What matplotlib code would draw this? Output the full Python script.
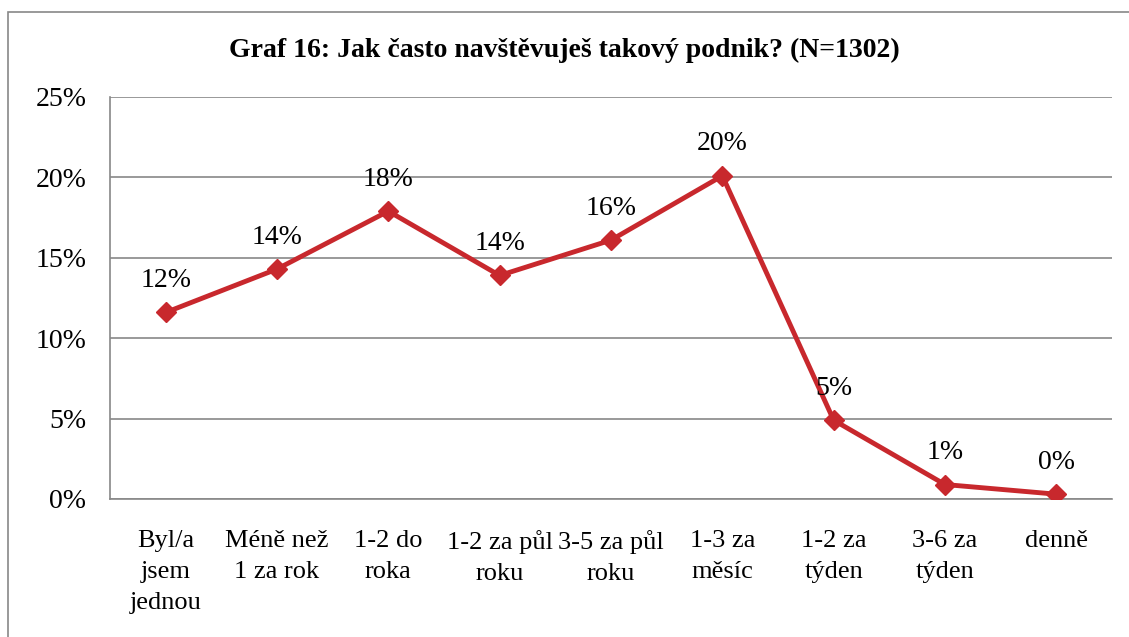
import matplotlib.pyplot as plt
from matplotlib.patches import Rectangle

categories = ['Byl/a\njsem\njednou', 'Méně než\n1 za rok', '1-2 do\nroka', '1-2 za půl\nroku',
              '3-5 za půl\nroku', '1-3 za\nměsíc', '1-2 za\ntýden', '3-6 za\ntýden', 'denně']
values = [11.6, 14.3, 17.9, 13.9, 16.1, 20.1, 4.9, 0.9, 0.3]
labels = ['12%', '14%', '18%', '14%', '16%', '20%', '5%', '1%', '0%']
yticks = [0, 5, 10, 15, 20, 25]

plt.rcParams['font.family'] = ['Liberation Serif', 'DejaVu Serif']
red = '#C8282D'
grey = '#888888'

fig = plt.figure(figsize=(11.29, 6.37), dpi=100)
ax = fig.add_axes([110 / 1129, 1 - 499 / 637, (1112 - 110) / 1129, (499 - 97) / 637])

x = list(range(len(categories)))
ax.plot(x, values, color=red, linewidth=3.5, marker='D', markersize=10, zorder=3)
for xi, v, lab in zip(x, values, labels):
    ax.annotate(lab, (xi, v), xytext=(0, 23), textcoords='offset points',
                ha='center', va='center', fontsize=20)

ax.set_xlim(-0.5, len(categories) - 0.5)
ax.set_ylim(0, 25)
ax.set_yticks(yticks)
ax.set_yticklabels([f'{t}%' for t in yticks], fontsize=20)
ax.set_xticks(x)
ax.set_xticklabels(categories, fontsize=19, linespacing=1.55, va='top')
ax.tick_params(axis='both', length=0)
ax.tick_params(axis='y', pad=17)
ax.tick_params(axis='x', pad=22)
ax.yaxis.grid(True, color=grey, linewidth=1.2)
ax.set_axisbelow(True)
for s in ['top', 'right']:
    ax.spines[s].set_visible(False)
for s in ['left', 'bottom']:
    ax.spines[s].set_color(grey)
    ax.spines[s].set_linewidth(1.2)

fig.text(0.5, 1 - 50 / 637, 'Graf 16: Jak často navštěvuješ takový podnik? (N=1302)',
         ha='center', va='center', fontsize=20, fontweight='bold')

fig.patches.append(Rectangle((8 / 1129, -0.1), 1.2, 1.1 - 12 / 637,
                             transform=fig.transFigure, fill=False,
                             edgecolor=grey, linewidth=1.2, clip_on=False))

fig.savefig('out.png', dpi=100)
